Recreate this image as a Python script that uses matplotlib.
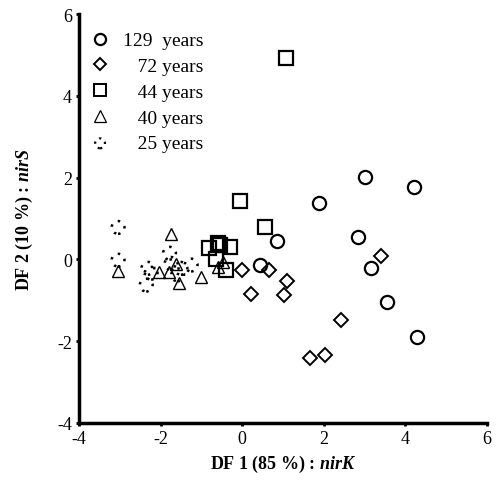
import matplotlib
matplotlib.use("Agg")
import matplotlib.pyplot as plt
from matplotlib.lines import Line2D

plt.rcParams['font.family'] = ['Liberation Serif', 'DejaVu Serif']
plt.rcParams['mathtext.fontset'] = 'custom'
plt.rcParams['mathtext.bfit'] = 'Liberation Serif:italic:bold'
plt.rcParams['mathtext.rm'] = 'Liberation Serif'
plt.rcParams['axes.unicode_minus'] = False

# DF1 / DF2 scores per site age
y129_x = [3.02, 4.20, 1.88, 2.84, 0.85, 3.16, 0.44, 3.54, 4.29]
y129_y = [2.02, 1.77, 1.37, 0.54, 0.46, -0.20, -0.14, -1.05, -1.89]

y72_x = [3.41, 0.00, 0.66, 1.10, 1.02, 0.21, 2.42, 1.66, 2.02]
y72_y = [0.09, -0.26, -0.26, -0.53, -0.87, -0.85, -1.48, -2.41, -2.33]

y44_x = [1.08, -0.06, 0.55, -0.60, -0.55, -0.29, -0.64, -0.80, -0.40]
y44_y = [4.93, 1.42, 0.78, 0.41, 0.35, 0.29, 0.02, 0.27, -0.26]

y40_x = [-1.74, -3.04, -2.04, -1.62, -1.54, -1.02, -0.60, -0.48, -1.80]
y40_y = [0.62, -0.28, -0.30, -0.12, -0.59, -0.44, -0.18, -0.06, -0.30]

y25_x = [-3.04, -3.04, -2.31, -2.35, -1.78, -1.74, -1.50, -1.25, -2.23, -1.58]
y25_y = [0.78, -0.02, -0.22, -0.63, 0.15, -0.10, -0.22, -0.14, -0.34, -0.38]

labels = ["129  years", "   72 years", "   44 years", "   40 years", "   25 years"]
xticks = [-4, -2, 0, 2, 4, 6]
yticks = [-4, -2, 0, 2, 4, 6]

fig = plt.figure(figsize=(4.96, 4.85), dpi=100)
ax = fig.add_axes([0.159, 0.126, 0.823, 0.843])

ax.plot(y129_x, y129_y, 'o', ms=9.5, mfc='none', mec='black', mew=1.6)
ax.plot(y72_x, y72_y, 'D', ms=7.5, mfc='none', mec='black', mew=1.4)
ax.plot(y44_x, y44_y, 's', ms=9.5, mfc='none', mec='black', mew=1.6)
ax.plot(y40_x, y40_y, '^', ms=9, mfc='none', mec='black', mew=1.0)
ax.scatter(y25_x, y25_y, s=85, facecolors='none', edgecolors='black',
           linewidths=1.8, linestyles=(0, (1.0, 2.6)))

# small dotted-circle handle for the legend only
dot_handle = ax.scatter([], [], s=50, facecolors='none', edgecolors='black',
                        linewidths=1.6, linestyles=(0, (1.0, 2.2)))

handles = [
    Line2D([], [], ls='none', marker='o', ms=8, mfc='none', mec='black', mew=1.6),
    Line2D([], [], ls='none', marker='D', ms=6.5, mfc='none', mec='black', mew=1.4),
    Line2D([], [], ls='none', marker='s', ms=8.5, mfc='none', mec='black', mew=1.4),
    Line2D([], [], ls='none', marker='^', ms=8, mfc='none', mec='black', mew=0.9),
    dot_handle,
]
leg = ax.legend(handles, labels, loc='upper left', bbox_to_anchor=(-0.01, 0.99),
                frameon=False, fontsize=14, handletextpad=0.6, labelspacing=0.42,
                borderaxespad=0.3, handlelength=1.2, scatterpoints=1)

ax.set_xlim(-4, 6)
ax.set_ylim(-4, 6)
ax.set_xticks(xticks)
ax.set_yticks(yticks)
ax.tick_params(labelsize=13, length=2, width=2, pad=3)
for s in ['top', 'right']:
    ax.spines[s].set_visible(False)
for s in ['left', 'bottom']:
    ax.spines[s].set_linewidth(2.5)

ax.set_xlabel(r"DF 1 (85 %) : $\mathbfit{nirK}$", fontsize=13, fontweight='bold',
              labelpad=4)
ax.set_ylabel(r"DF 2 (10 %) : $\mathbfit{nirS}$", fontsize=13, fontweight='bold',
              labelpad=16)

fig.savefig("out.png", dpi=100)
